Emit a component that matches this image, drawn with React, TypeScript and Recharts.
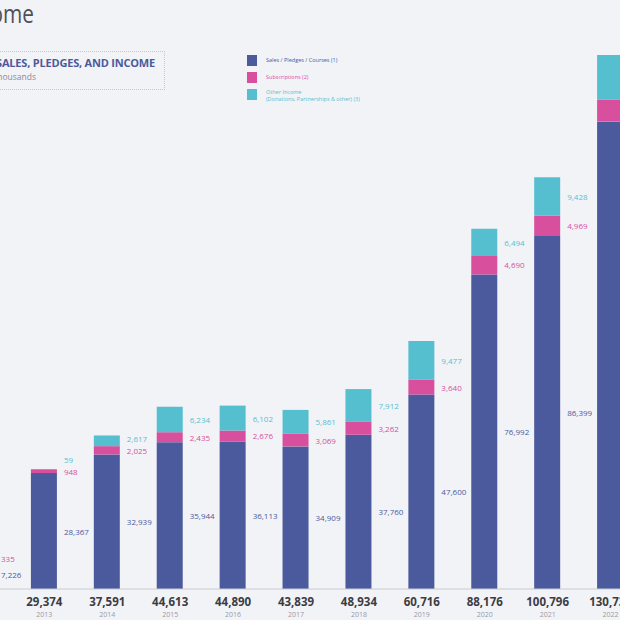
import { BarChart, Bar, XAxis, YAxis, LabelList } from "recharts";

const years = ["2012", "2013", "2014", "2015", "2016", "2017", "2018", "2019", "2020", "2021", "2022"];
const sales = [7226, 28367, 32939, 35944, 36113, 34909, 37760, 47600, 76992, 86399, 114400];
const subscriptions = [335, 948, 2025, 2435, 2676, 3069, 3262, 3640, 4690, 4969, 5380];
const otherIncome = [0, 59, 2617, 6234, 6102, 5861, 7912, 9477, 6494, 9428, 10950];
const totals = [7561, 29374, 37591, 44613, 44890, 43839, 48934, 60716, 88176, 100796, 130730];

const SALES = "#4b5a9c";
const PINK = "#d84f9d";
const CYAN = "#55bfcf";
const FONT = "'Open Sans', 'Noto Sans', sans-serif";

const series = [
  { key: "sales", color: SALES, lines: ["Sales / Pledges / Courses (1)"] },
  { key: "subs", color: PINK, lines: ["Subscriptions (2)"] },
  { key: "other", color: CYAN, lines: ["Other Income", "(Donations, Partnerships & other) (3)"] },
];

const data = years.map((year, i) => ({
  year,
  sales: sales[i],
  subs: subscriptions[i],
  other: otherIncome[i],
}));

const fmt = (v: number) => Number(v).toLocaleString("en-US");

function YearTick(props: any) {
  const { x, y, payload } = props;
  const i = years.indexOf(payload.value);
  return (
    <g fontFamily={FONT}>
      <text x={x} y={y + 9} textAnchor="middle" fontSize={11.5} fontWeight={700} fill="#3c3c44">
        {fmt(totals[i])}
      </text>
      <text x={x} y={y + 20} textAnchor="middle" fontSize={7} fill="#9a9aa4">
        {payload.value}
      </text>
    </g>
  );
}

const sideLabel = (color: string) => (p: any) => {
  const { x, y, width, height, value } = p;
  if (!value) return null;
  return (
    <text
      x={Number(x) + Number(width) + 7}
      y={Number(y) + Number(height) / 2}
      dominantBaseline="central"
      fontSize={8}
      fontFamily={FONT}
      fill={color}
    >
      {fmt(value)}
    </text>
  );
};

const otherLabel = (p: any) => {
  const { x, y, width, height, value, index } = p;
  if (!value) return null;
  const h = Number(height);
  let cy = Number(y) + h / 2;
  if (index !== undefined && value > 0) {
    const subsH = (subscriptions[index] * h) / value;
    cy = Math.min(cy, Number(y) + h + subsH / 2 - 10);
  }
  return (
    <text
      x={Number(x) + Number(width) + 7}
      y={cy}
      dominantBaseline="central"
      fontSize={8}
      fontFamily={FONT}
      fill={CYAN}
    >
      {fmt(value)}
    </text>
  );
};

export default function App() {
  return (
    <div
      style={{
        position: "fixed",
        left: 0,
        top: 0,
        width: 620,
        height: 620,
        overflow: "hidden",
        background: "#f2f3f7",
        fontFamily: FONT,
      }}
    >
      {/* title, cut off on the left */}
      <div
        style={{
          position: "absolute",
          right: 586,
          top: -5,
          fontSize: 26,
          color: "#505058",
          whiteSpace: "nowrap",
          transform: "scaleX(0.8)",
          transformOrigin: "right center",
        }}
      >
        Income
      </div>

      {/* boxed heading */}
      <div
        style={{
          position: "absolute",
          left: -10,
          top: 51,
          width: 173,
          height: 37,
          border: "1px dotted #c4c6d0",
        }}
      />
      <div
        style={{
          position: "absolute",
          right: 465,
          top: 55,
          fontSize: 11,
          fontWeight: 700,
          color: SALES,
          whiteSpace: "nowrap",
          letterSpacing: -0.2,
        }}
      >
        GROSS SALES, PLEDGES, AND INCOME
      </div>
      <div style={{ position: "absolute", right: 584, top: 71, fontSize: 8.5, color: "#8a8a94", whiteSpace: "nowrap" }}>
        In thousands
      </div>

      {/* legend */}
      <div style={{ position: "absolute", left: 247, top: 55 }}>
        {series.map((s, i) => (
          <div key={s.key} style={{ display: "flex", alignItems: "flex-start", height: i === 2 ? 20 : 17 }}>
            <div style={{ width: 10, height: 11, background: s.color, flexShrink: 0 }} />
            <div style={{ marginLeft: 9, fontSize: 5.5, lineHeight: "7px", color: s.color, marginTop: i === 2 ? 0 : 2 }}>
              {s.lines.map((l) => (
                <div key={l}>{l}</div>
              ))}
            </div>
          </div>
        ))}
      </div>

      <div style={{ position: "absolute", left: -50, top: 0 }}>
        <BarChart width={692} height={620} data={data} margin={{ top: 15, right: 0, left: 0, bottom: 0 }}>
          <XAxis
            dataKey="year"
            height={31}
            interval={0}
            tickLine={false}
            axisLine={{ stroke: "#c9cad2" }}
            tick={<YearTick />}
          />
          <YAxis hide domain={[0, 140500]} />
          <Bar dataKey="sales" stackId="a" fill={SALES} barSize={26} isAnimationActive={false}>
            <LabelList dataKey="sales" content={sideLabel(SALES)} />
          </Bar>
          <Bar dataKey="subs" stackId="a" fill={PINK} barSize={26} isAnimationActive={false}>
            <LabelList dataKey="subs" content={sideLabel(PINK)} />
          </Bar>
          <Bar dataKey="other" stackId="a" fill={CYAN} barSize={26} isAnimationActive={false}>
            <LabelList dataKey="other" content={otherLabel} />
          </Bar>
        </BarChart>
      </div>
    </div>
  );
}
